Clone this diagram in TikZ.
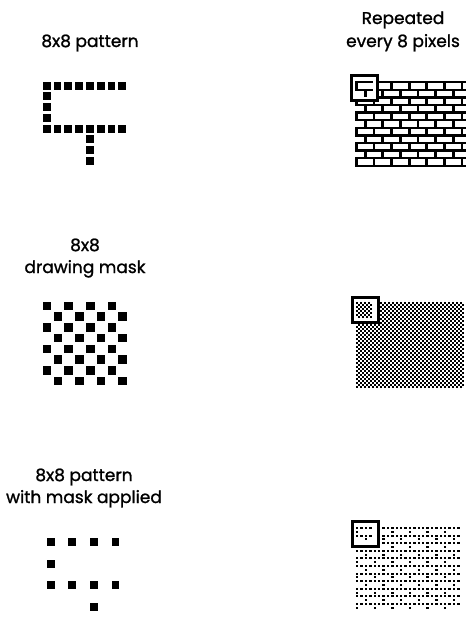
\documentclass[tikz,border=0pt]{standalone}
\usepackage{fontspec}
\setmainfont{Poppins}[FakeBold=1.2]

% one filled square per pixel that the rule (#4) switches on
\newcommand{\brickrule}{((mod(\py,4)==0) || ((mod(\py,8)<4) && (mod(\px,8)==0)) || ((mod(\py,8)>4) && (mod(\px,8)==4)))}
\newcommand{\maskrule}{(mod(\py+\px,2)==0)}
\newcommand{\maskedrule}{(((mod(\py,4)==0) && (mod(\px,2)==0)) || ((mod(\py,8)==2) && (mod(\px,8)==0)) || ((mod(\py,8)==6) && (mod(\px,8)==4)))}
\newcommand{\pixgrid}[4]{%
  \foreach \py in {0,...,#2}{%
    \foreach \px in {0,...,#1}{%
      \pgfmathtruncatemacro\pxon{#4}%
      \ifnum\pxon=1 \fill[pix] (\px,\py) rectangle ++(#3,#3);\fi
    }%
  }%
}

\begin{document}
\begin{tikzpicture}[x=1pt, y=-1pt,
        lbl/.style   = {font=\fontsize{17}{19}\selectfont, anchor=base, inner sep=0pt},
        pix/.style   = {fill=black},
        frame/.style = {draw, line width=3pt, fill=white},
    ]
        \useasboundingbox (0,0) rectangle (476,618);

        % ---- titulos ----
        \node (patA) [lbl] at (90,47)  {8x8 pattern};
        \node (repA) [lbl] at (403,24) {Repeated};
        \node (repB) [lbl] at (403,47) {every 8 pixels};
        \node (maskA) [lbl] at (85,251) {8x8};
        \node (maskB) [lbl] at (85,273) {drawing mask};
        \node (appA) [lbl] at (84,481) {8x8 pattern};
        \node (appB) [lbl] at (84,503) {with mask applied};

        % ---- 8x8 ampliados (izquierda) ----
        \begin{scope}[shift={(42.7,81.7)}, x=10.8pt, y=-10.72pt]
            \pixgrid{7}{7}{0.74}{\brickrule}
        \end{scope}
        \begin{scope}[shift={(42.7,301.7)}, x=10.8pt, y=-10.72pt]
            \pixgrid{7}{7}{0.8}{\maskrule}
        \end{scope}
        \begin{scope}[shift={(46.7,538.3)}, x=10.8pt, y=-10.72pt]
            \pixgrid{7}{7}{0.74}{\maskedrule}
        \end{scope}

        % ---- repetidos cada 8 pixeles (derecha) + recuadro ----
        \begin{scope}[shift={(355,81)}, x=2.2pt, y=-1.9pt]
            \pixgrid{49}{44}{1.25}{\brickrule}
            \draw[frame] (-1.8,-2.7) rectangle (10,10.5);
            \pixgrid{7}{7}{1.25}{\brickrule}
        \end{scope}
        \begin{scope}[shift={(356,302)}, x=2pt, y=-2pt]
            \pixgrid{53}{42}{0.85}{\maskrule}
            \draw[frame] (-2,-2.5) rectangle (11,10);
            \pixgrid{7}{7}{0.85}{\maskrule}
        \end{scope}
        \begin{scope}[shift={(356,527)}, x=2.2pt, y=-1.9pt]
            \pixgrid{46}{43}{1.1}{\maskedrule}
            \draw[frame] (-1.8,-2.7) rectangle (10,10.5);
            \pixgrid{7}{7}{1.1}{\maskedrule}
        \end{scope}
    \end{tikzpicture}
\end{document}
